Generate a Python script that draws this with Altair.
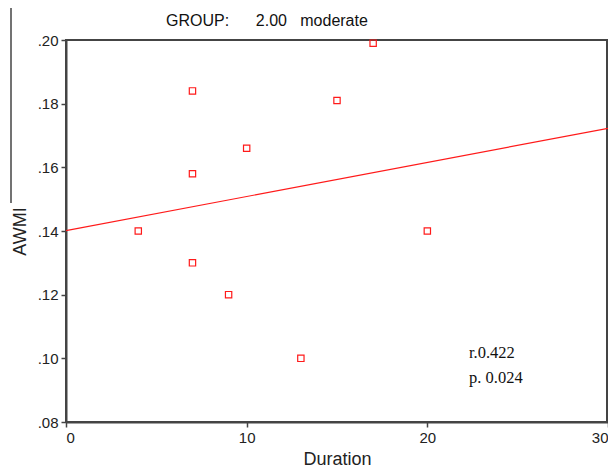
import altair as alt
import pandas as pd

duration = [4, 7, 7, 7, 9, 10, 13, 15, 17, 20]
awmi = [0.140, 0.184, 0.158, 0.130, 0.120, 0.166, 0.100, 0.181, 0.199, 0.140]
x_ticks = [0, 10, 20, 30]
y_ticks = [0.08, 0.10, 0.12, 0.14, 0.16, 0.18, 0.20]
title_text = "GROUP:\u00a0\u00a0\u00a0\u00a0\u00a0\u00a02.00\u00a0\u00a0\u00a0moderate"
stat_r = "r.0.422"
stat_p = "p. 0.024"

df = pd.DataFrame({"Duration": duration, "AWMI": awmi})

W, H = 542, 382
RED = "#ff1a1a"
AX = "#444444"

xs = alt.Scale(domain=[0, 30], nice=False, zero=False)
ys = alt.Scale(domain=[0.08, 0.20], nice=False, zero=False)

xaxis = alt.Axis(values=x_ticks, grid=False, tickSize=5, tickColor=AX, domainColor=AX,
                 domainWidth=2, tickWidth=1.5, labelFontSize=15, labelColor="#222222",
                 labelFont="Liberation Sans", labelPadding=3, titleFont="Liberation Sans",
                 titleFontSize=18, titleFontWeight="normal", titleColor="#222222",
                 titlePadding=5)
yaxis = alt.Axis(values=y_ticks, grid=False, tickSize=5, tickColor=AX, domainColor=AX,
                 domainWidth=2, tickWidth=1.5, labelFontSize=15, labelColor="#222222",
                 labelFont="Liberation Sans", labelPadding=3,
                 labelExpr="substring(format(datum.value, '.2f'), 1)",
                 titleFont="Liberation Sans", titleFontSize=18, titleFontWeight="normal",
                 titleColor="#222222", titlePadding=8)

base = alt.Chart(df)

points = base.mark_point(shape="square", filled=False, color=RED, size=40,
                         strokeWidth=1.2, opacity=1).encode(
    x=alt.X("Duration:Q", scale=xs, axis=xaxis, title="Duration"),
    y=alt.Y("AWMI:Q", scale=ys, axis=yaxis, title="AWMI"),
)

fit = base.transform_regression("Duration", "AWMI", extent=[0, 30]).mark_line(
    color=RED, strokeWidth=1.2).encode(
    x=alt.X("Duration:Q", scale=xs),
    y=alt.Y("AWMI:Q", scale=ys),
)


def label(txt, x, y, font, size):
    return alt.Chart(pd.DataFrame({"t": [txt]})).mark_text(
        font=font, fontSize=size, color="#111111", align="left",
        baseline="middle").encode(
        text="t:N", x=alt.value(x), y=alt.value(y))


title = label(title_text, 100, -19, "Liberation Sans", 16)
stat1 = label(stat_r, 403, 313, "Liberation Serif", 16.5)
stat2 = label(stat_p, 403, 338, "Liberation Serif", 16.5)

marker = pd.DataFrame({"a": [0]})
side_line = alt.Chart(marker).mark_rule(color=AX, strokeWidth=1.5).encode(
    x=alt.value(-55), y=alt.value(-40), y2=alt.value(163))
right_line = alt.Chart(marker).mark_rule(color=AX, strokeWidth=2).encode(
    x=alt.value(W - 1), y=alt.value(0), y2=alt.value(H))
top_line = alt.Chart(marker).mark_rule(color=AX, strokeWidth=2).encode(
    x=alt.value(0), x2=alt.value(W), y=alt.value(0))

chart = alt.layer(side_line, right_line, top_line, fit, points, title, stat1, stat2).properties(
    width=W, height=H,
    autosize=alt.AutoSizeParams(type="none"),
    padding={"left": 58, "top": 32, "right": 0, "bottom": 48},
).configure(background="white").configure_view(stroke=AX, strokeWidth=2)

chart.save("out.html", embed_options={"renderer": "svg", "actions": False})
